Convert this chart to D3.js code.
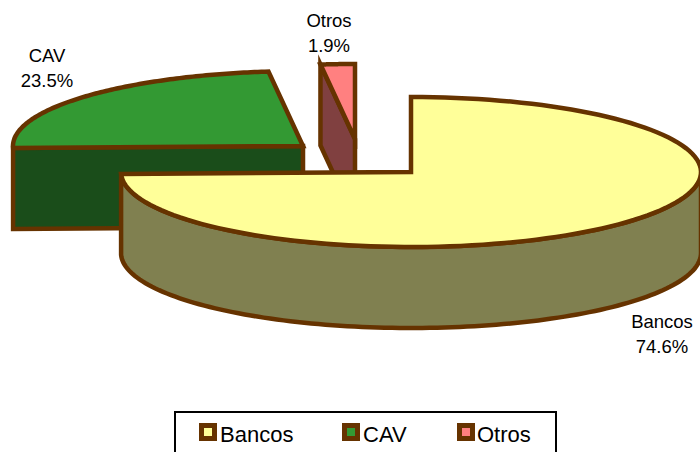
<!DOCTYPE html>
<html><head><meta charset="utf-8">
<script src="https://cdn.jsdelivr.net/npm/d3@7"></script>
<style>html,body{margin:0;background:#fff}svg{display:block}text{font-family:"Liberation Sans",Arial,sans-serif;fill:#000}</style>
</head><body><svg id="c" width="700" height="452"></svg>
<script>
const categories = ["Bancos","CAV","Otros"];
const shares = [74.6,23.5,1.9];
const labels = ["74.6%","23.5%","1.9%"];
const topColors = ["#FFFF99","#339933","#FF8080"];
const sideColors = ["#808050","#1A4D1A","#804040"];
const centers = [[411,172],[303,146],[355,139]];
const labelPos = [[662,328],[47,62],[329,27]];
const edge = "#663300", rx = 290, ry = 75, depth = 81, sw = 4.5;

const svg = d3.select("#c");
const pie = d3.pie().sort(null).value(d=>d)(shares);
const line = d3.line();
const pt = (c,a,dy=0)=>[c[0]+rx*Math.sin(a), c[1]-ry*Math.cos(a)+dy];
const arcPts = (c,a0,a1,dy=0)=>d3.range(0,1.0001,1/120).map(t=>pt(c,a0+(a1-a0)*t,dy));
const draw = (pts,fill)=>svg.append("path").attr("d",line(pts)+"Z").attr("fill",fill)
  .attr("stroke",edge).attr("stroke-width",sw).attr("stroke-linejoin","miter").attr("stroke-miterlimit",6);

// Drawn back to front: Otros, CAV, Bancos
[2,1,0].forEach(i=>{
  const p = pie[i], c = centers[i], a0 = p.startAngle, a1 = p.endAngle;
  if(i===0){
    // curved outer wall, visible lower half
    const lo = Math.PI/2, hi = a1;
    draw([...arcPts(c,lo,hi), ...arcPts(c,hi,lo,depth)], sideColors[i]);
  } else {
    // flat cut wall facing the viewer
    const from = pt(c,a0);
    draw([from,c,[c[0],c[1]+depth],[from[0],from[1]+depth]], sideColors[i]);
  }
  draw([c,...arcPts(c,a0,a1)], topColors[i]);
});

// Data labels
pie.forEach((p,i)=>{
  const [x,y] = labelPos[i];
  const t = svg.append("text").attr("text-anchor","middle").attr("font-size",18.5);
  t.append("tspan").attr("x",x).attr("y",y).text(categories[i]);
  t.append("tspan").attr("x",x).attr("y",y+25).text(labels[i]);
});

// Legend
svg.append("rect").attr("x",175).attr("y",412).attr("width",381).attr("height",60)
  .attr("fill","#fff").attr("stroke","#000").attr("stroke-width",2);
const legendX = d3.scaleOrdinal().domain(categories).range([199,342,457]);
categories.forEach((n,i)=>{
  const x = legendX(n);
  svg.append("rect").attr("x",x+2.5).attr("y",425.5).attr("width",13).attr("height",13)
    .attr("fill",topColors[i]).attr("stroke",edge).attr("stroke-width",5);
  svg.append("text").attr("x",x+(i===2?20:21)).attr("y",442).attr("font-size",22).text(n);
});
</script></body></html>
